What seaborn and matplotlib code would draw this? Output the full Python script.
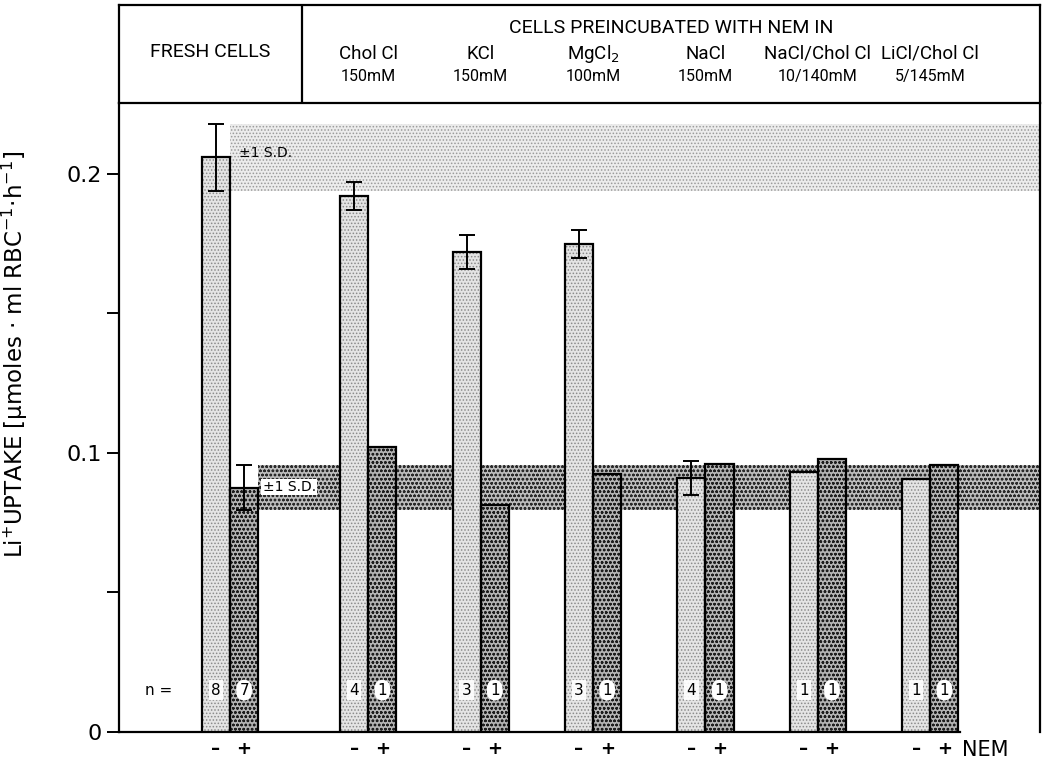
import numpy as np
import pandas as pd
import matplotlib
matplotlib.use("Agg")
import matplotlib.pyplot as plt
from matplotlib.patches import Rectangle
import seaborn as sns

# ---- data -----------------------------------------------------------------
groups = ["FRESH CELLS", "Chol Cl", "KCl", "MgCl$_2$", "NaCl", "NaCl/Chol Cl", "LiCl/Chol Cl"]
concentrations = ["", "150mM", "150mM", "100mM", "150mM", "10/140mM", "5/145mM"]
uptake_minus = [0.206, 0.192, 0.172, 0.175, 0.091, 0.093, 0.0905]   # without NEM
uptake_plus = [0.0875, 0.102, 0.0815, 0.0925, 0.096, 0.098, 0.0955]  # with NEM
sd_minus = [0.012, 0.005, 0.006, 0.005, 0.006, np.nan, np.nan]
sd_plus = [0.008, np.nan, np.nan, np.nan, np.nan, np.nan, np.nan]
n_minus = [8, 4, 3, 3, 4, 1, 1]
n_plus = [7, 1, 1, 1, 1, 1, 1]
nem_levels = ["\u2013", "+"]

# horizontal layout: fresh cells set a little apart from the preincubated groups
group_x = np.array([0.0, 1.23, 2.23, 3.23, 4.23, 5.23, 6.23])
bar_w = 0.25

df = pd.DataFrame({
    "pos": np.concatenate([group_x, group_x]),
    "uptake": uptake_minus + uptake_plus,
    "NEM": [nem_levels[0]] * len(groups) + [nem_levels[1]] * len(groups),
})

# ---- figure ---------------------------------------------------------------
sns.set_theme(style="ticks")
plt.rcParams["font.family"] = ["DejaVu Sans"]
plt.rcParams["hatch.linewidth"] = 0.7
for key in ["text.color", "axes.labelcolor", "xtick.color", "ytick.color"]:
    plt.rcParams[key] = "black"

W, H = 1043, 761
fig = plt.figure(figsize=(W / 100, H / 100), dpi=100)
px_l, px_r, px_b, px_t, px_hdr_t = 119, 1040, 732, 103, 5
ax = fig.add_axes([px_l / W, (H - px_b) / H, (px_r - px_l) / W, (px_b - px_t) / H])
hdr = fig.add_axes([px_l / W, (H - px_t) / H, (px_r - px_l) / W, (px_t - px_hdr_t) / H], sharex=ax)

light_face, light_hatch = "#e4e4e4", "#8a8a8a"
dark_face, dark_hatch = "#b4b4b4", "#1e1e1e"

sns.barplot(data=df, x="pos", y="uptake", hue="NEM", hue_order=nem_levels,
            native_scale=True, dodge=True, width=2 * bar_w, gap=0,
            palette={nem_levels[0]: light_face, nem_levels[1]: dark_face},
            errorbar=None, legend=False, ax=ax, zorder=3)

# dotted screen texture + black outline on every bar
for cont, hcol in zip(ax.containers, [light_hatch, dark_hatch]):
    for p in cont:
        p.set_hatch("....." if hcol == light_hatch else "oooo")
        p.set_edgecolor(hcol)
        p.set_linewidth(0)
        ax.add_patch(Rectangle(p.get_xy(), p.get_width(), p.get_height(),
                               fill=False, edgecolor="black", lw=1.6, zorder=4))

xlim = (-0.988, 7.206)
ax.set_xlim(xlim)
ax.set_ylim(0, 0.2254)

# ±1 S.D. bands of the fresh cells
m0, s0 = uptake_minus[0], sd_minus[0]
ax.fill_between([group_x[0], xlim[1]], m0 - s0, m0 + s0, facecolor="#ececec",
                edgecolor="#9a9a9a", hatch=".....", linewidth=0, zorder=1)
m1, s1 = uptake_plus[0], sd_plus[0]
ax.fill_between([group_x[0] + bar_w, xlim[1]], m1 - s1, m1 + s1, facecolor="#bdbdbd",
                edgecolor="#2a2a2a", hatch="oooo", linewidth=0, zorder=1)
ax.text(group_x[0] + 0.08, m0 + 0.0015, "\u00b11 S.D.", fontsize=10, ha="left",
        va="center", zorder=5)
ax.text(group_x[0] + bar_w + 0.04, m1 + 0.0003, "\u00b11 S.D.", fontsize=10, ha="left",
        va="center", zorder=5,
        bbox=dict(boxstyle="square,pad=0.1", facecolor="white", edgecolor="none"))

# error bars
for vals, sds, off in [(uptake_minus, sd_minus, -bar_w / 2), (uptake_plus, sd_plus, bar_w / 2)]:
    ax.errorbar(group_x + off, vals, yerr=sds, fmt="none", ecolor="black",
                elinewidth=1.4, capsize=6, capthick=1.4, zorder=6)

# sample sizes
ax.text(group_x[0] - 0.76, 0.015, "n =", fontsize=11, ha="left", va="center", zorder=6)
for x, a, b in zip(group_x, n_minus, n_plus):
    ax.text(x - bar_w / 2, 0.015, str(a), fontsize=11, ha="center", va="center", zorder=6,
            bbox=dict(boxstyle="square,pad=0.15", facecolor="white", edgecolor="none", alpha=0.9))
    ax.text(x + bar_w / 2, 0.015, str(b), fontsize=11, ha="center", va="center", zorder=6,
            bbox=dict(boxstyle="round,pad=0.2,rounding_size=0.6", facecolor="white",
                      edgecolor="none"))

# axes styling
tick_x = np.sort(np.concatenate([group_x - bar_w / 2, group_x + bar_w / 2]))
ax.set_xticks(tick_x)
ax.set_xticklabels([nem_levels[0], nem_levels[1]] * len(groups), fontsize=13, fontweight="bold")
ax.tick_params(axis="x", length=0, pad=6)
ax.text(6.72, -0.0066, "NEM", fontsize=15, ha="center", va="center")
ax.set_xlabel("")

ax.set_yticks([0, 0.1, 0.2])
ax.set_yticklabels(["0", "0.1", "0.2"], fontsize=16)
ax.set_yticks([0.05, 0.15], minor=True)
ax.tick_params(axis="y", which="both", direction="out", length=9, width=1.4, color="black")
ax.set_ylabel("Li$^{+}$UPTAKE [\u03bcmoles \u00b7 ml RBC$^{-1}$\u00b7h$^{-1}$]", fontsize=16.5)
ax.yaxis.set_label_coords(-0.097, 0.6)

for side in ["left", "bottom", "right"]:
    ax.spines[side].set_color("black")
    ax.spines[side].set_linewidth(1.6)
ax.spines["top"].set_visible(False)
ax.spines["bottom"].set_bounds(xlim[0], 6.49)

# header box
hdr.set_ylim(0, 1)
hdr.tick_params(axis="both", which="both", length=0, labelbottom=False, labelleft=False)
for s in hdr.spines.values():
    s.set_color("black")
    s.set_linewidth(1.6)
div_x = 0.64
hdr.axvline(div_x, color="black", lw=1.6)
hdr_font = dict(family=["Roboto", "DejaVu Sans"])
hdr.text((xlim[0] + div_x) / 2, 0.52, "FRESH CELLS", fontsize=14, ha="center", va="center", **hdr_font)
hdr.text((div_x + xlim[1]) / 2, 0.77, "CELLS PREINCUBATED WITH NEM IN", fontsize=14,
         ha="center", va="center", **hdr_font)
for x, g, c in zip(group_x[1:], groups[1:], concentrations[1:]):
    hdr.text(x, 0.5, g, fontsize=13.5, ha="center", va="center", **hdr_font)
    hdr.text(x, 0.27, c, fontsize=11.5, ha="center", va="center", **hdr_font)

fig.savefig("out.png", dpi=100)
